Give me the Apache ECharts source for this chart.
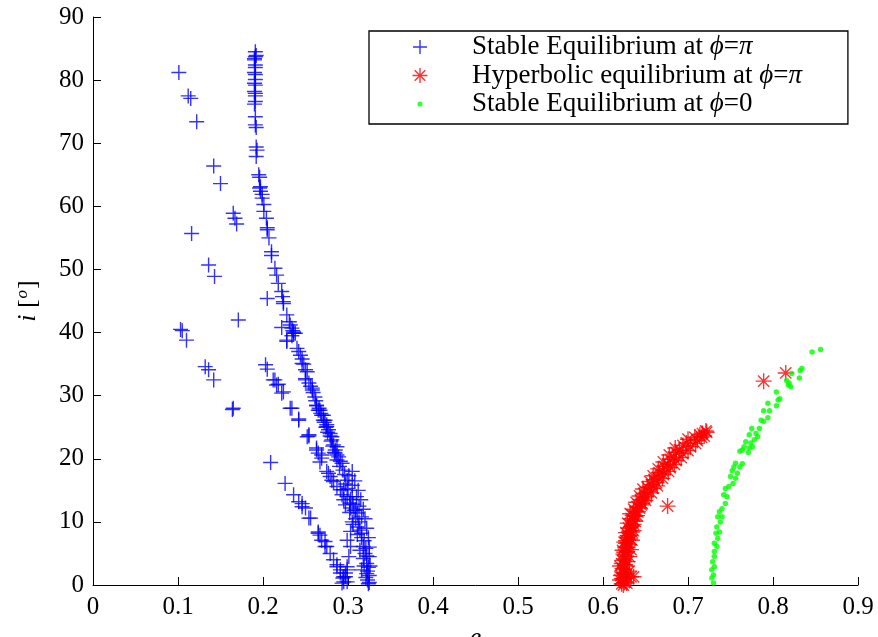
<!DOCTYPE html>
<html><head><meta charset="utf-8">
<script src="https://cdn.jsdelivr.net/npm/echarts@6/dist/echarts.min.js"></script>
<style>html,body{margin:0;padding:0;background:#fff}#c{width:878px;height:637px}</style>
</head><body><div id="c"></div>
<script>
// ---- tick labels ----
const xTickLabels = ['0','0.1','0.2','0.3','0.4','0.5','0.6','0.7','0.8','0.9'];
const yTickLabels = ['0','10','20','30','40','50','60','70','80','90'];

// ---- series names ----
const seriesNames = ['Stable Equilibrium at \u03D5=\u03C0', 'Hyperbolic equilibrium at \u03D5=\u03C0', 'Stable Equilibrium at \u03D5=0'];

// ---- Stable Equilibrium at phi=pi  [e, i] ----
const stablePiColumn = [
  [0.191,84.5],[0.192,83.9],[0.191,83.7],[0.190,83.4],[0.190,83.2],[0.191,82.4],[0.191,82.0],[0.190,81.2],[0.191,80.9],
  [0.191,80.1],[0.190,79.5],[0.191,79.2],[0.190,78.2],[0.191,77.9],[0.191,77.5],[0.191,76.6],[0.190,76.2],[0.191,74.2],
  [0.191,72.9],[0.192,72.5],[0.192,69.4],[0.193,68.9],[0.192,67.9],[0.195,65.0],[0.196,64.6],[0.197,63.1],[0.196,62.9]
];
const stablePiMain = [
  [0.197,62.4],[0.199,61.9],[0.199,61.3],[0.201,60.3],[0.201,59.2],[0.204,58.1],[0.205,56.6],[0.205,56.3],[0.207,55.0],
  [0.210,52.8],[0.210,52.2],[0.214,50.2],[0.216,49.1],[0.218,47.8],[0.222,46.5],[0.223,45.7],[0.224,44.9],[0.224,44.6],
  [0.228,42.8],[0.231,41.7],[0.232,41.2],[0.234,40.7],[0.236,39.9],[0.235,40.3],[0.236,40.1],[0.234,39.5],[0.228,38.8],
  [0.228,38.6],[0.222,40.8],[0.238,39.9],[0.244,36.4],[0.246,35.8],[0.246,35.1],[0.250,34.1],[0.250,32.7],[0.250,32.5],
  [0.258,31.2],[0.258,30.9],[0.259,30.5],[0.263,28.5],[0.263,28.4],[0.265,27.7],[0.267,27.7],[0.269,26.9],[0.271,26.9],
  [0.271,26.1],[0.273,26.1],[0.275,25.4],[0.275,25.1],[0.277,24.6],[0.279,24.0],[0.279,23.6],[0.281,23.5],[0.281,23.0],
  [0.283,22.2],[0.285,21.4],[0.287,21.9],[0.285,20.9],[0.287,20.6],[0.287,19.8],[0.293,19.3],[0.290,18.8],[0.277,17.7],
  [0.279,17.2],[0.275,18.0],[0.281,16.6],[0.283,16.4],[0.287,15.6],[0.291,15.1],[0.295,15.1],[0.299,16.6],[0.296,17.5],
  [0.293,14.3],[0.295,13.5],[0.299,14.0],[0.297,12.7],[0.302,13.0],[0.305,14.0],[0.303,12.2],[0.307,11.8],[0.311,11.4],
  [0.309,10.5],[0.313,10.0],[0.306,9.6],[0.314,8.7],[0.311,8.0],[0.316,7.5],[0.318,6.1],[0.314,5.5],[0.320,5.0],
  [0.322,3.4],[0.319,3.0],[0.323,2.2],[0.323,0.8],[0.321,1.2],[0.325,0.4],[0.325,1.5],[0.326,3.0],[0.325,4.5],
  [0.325,6.0],[0.324,7.5],[0.322,9.0],[0.320,10.5],[0.318,12.0],[0.315,13.5],[0.312,15.0],[0.308,16.5],[0.305,18.0],
  [0.299,7.1],[0.303,6.1],[0.301,4.5],[0.299,2.9],[0.297,1.3],[0.293,0.3],[0.295,0.5],[0.299,0.5],[0.297,1.9],
  [0.299,2.4],[0.303,8.5],[0.305,10.0],[0.302,11.5],
  [0.240,37.5],[0.242,37.0],[0.248,35.0],[0.252,33.8],[0.254,32.0],[0.256,31.5],[0.261,29.8],[0.262,29.2],[0.266,28.0],
  [0.268,27.2],[0.272,25.8],[0.274,25.0],[0.276,24.2],[0.280,22.8],[0.282,22.0],[0.284,21.0],[0.289,20.3],[0.291,19.6],
  [0.294,18.2],[0.297,16.0],[0.300,15.3],[0.303,13.6],[0.306,12.8],[0.309,11.9],[0.312,9.2],[0.316,8.2],[0.319,7.0],
  [0.321,5.8],[0.322,4.6],[0.324,2.8],[0.322,1.8],[0.324,0.2],[0.318,4.2],[0.316,2.4],[0.316,10.8],[0.313,12.5],
  [0.310,14.0],[0.305,15.8],[0.301,17.3]
];
const stablePiBranch = [
  [0.205,45.4],[0.203,34.9],[0.205,34.2],[0.212,32.5],[0.214,32.5],[0.216,31.7],[0.218,31.8],[0.222,30.4],[0.224,30.6],
  [0.232,28.0],[0.234,28.0],[0.242,26.3],[0.242,26.1],[0.254,23.8],[0.254,23.6],[0.252,23.5],[0.263,21.7],[0.263,21.4],
  [0.269,20.6],[0.269,20.1],[0.265,20.9],[0.267,19.5],[0.209,19.4],[0.226,16.1],[0.236,14.3],[0.242,13.2],[0.246,12.4],
  [0.246,12.9],[0.250,12.2],[0.254,10.6],[0.256,10.6],[0.265,8.4],[0.267,7.9],[0.265,8.2],[0.269,7.1],[0.273,6.9],
  [0.273,6.1],[0.275,6.1],[0.279,5.0],[0.283,4.0],[0.287,3.2],[0.287,2.9],[0.291,2.4],[0.291,1.9],[0.294,1.1],[0.295,1.3]
];
const stablePiScatter = [
  [0.101,81.2],[0.112,77.5],[0.115,77.1],[0.122,73.4],[0.142,66.4],[0.150,63.6],[0.165,58.9],[0.167,58.1],[0.169,57.2],
  [0.116,55.7],[0.136,50.7],[0.143,48.9],[0.171,42.0],[0.103,40.5],[0.105,40.3],[0.110,38.8],[0.132,34.6],[0.136,34.1],
  [0.142,32.5],[0.165,28.0],[0.164,27.8]
];

// ---- Hyperbolic equilibrium at phi=pi  [e, i] ----
const hyperbolicPi = [
  [0.622,0.2],[0.626,0.5],[0.624,0.9],[0.629,1.2],[0.621,1.5],[0.625,1.9],[0.631,2.2],[0.623,2.6],[0.627,3.0],[0.622,3.4],
  [0.629,3.7],[0.625,4.1],[0.631,4.5],[0.624,4.9],[0.628,5.3],[0.633,5.6],[0.626,6.0],[0.630,6.4],[0.625,6.8],[0.634,7.1],
  [0.628,7.5],[0.632,7.9],[0.627,8.3],[0.636,8.6],[0.630,9.0],[0.634,9.4],[0.629,9.8],[0.638,10.1],[0.633,10.5],[0.637,10.9],
  [0.632,11.3],[0.641,11.6],[0.636,12.0],[0.640,12.4],[0.645,12.7],[0.639,13.1],[0.644,13.5],[0.649,13.8],[0.643,14.1],
  [0.648,14.5],[0.653,14.8],[0.647,15.2],[0.652,15.5],[0.657,15.9],[0.655,16.4],[0.660,16.7],[0.664,17.1],[0.659,17.3],
  [0.666,17.8],[0.670,18.1],[0.665,18.4],[0.672,18.8],[0.676,19.2],[0.671,19.5],[0.679,19.9],[0.683,20.3],[0.678,20.6],
  [0.686,21.0],[0.690,21.4],[0.685,21.7],[0.694,22.1],[0.698,22.5],[0.700,23.1],[0.708,23.4],[0.714,23.8],[0.719,23.6],
  [0.722,24.2],[0.717,24.0],[0.620,0.8],[0.628,0.3],[0.633,1.3],[0.636,1.3],[0.623,2.0],[0.620,3.0],[0.623,5.5],
  [0.627,7.0],[0.631,8.5],[0.635,11.0],[0.676,12.5],[0.789,32.3],[0.815,33.6],[0.624,0.0],
  [0.625,0.4],[0.622,1.0],[0.627,1.7],[0.624,2.4],[0.626,3.2],[0.623,3.9],[0.627,4.6],[0.625,5.2],[0.629,5.9],[0.627,6.6],
  [0.632,7.3],[0.629,7.8],[0.634,8.4],[0.633,9.2],[0.636,9.6],[0.635,10.3],[0.640,11.0],[0.639,11.7],[0.643,12.2],[0.646,12.9],
  [0.650,13.4],[0.651,14.0],[0.657,14.6],[0.659,15.3],[0.664,15.7],[0.663,16.2],[0.670,16.9],[0.671,17.5],[0.677,18.0],[0.679,18.6],
  [0.684,19.1],[0.686,19.7],[0.692,20.2],[0.694,20.8],[0.700,21.3],[0.703,21.9],[0.709,22.4],[0.711,22.9],[0.716,23.4],[0.721,24.4]
];

// ---- Stable Equilibrium at phi=0  [e, i] ----
const stableZero = [
  [0.856,37.3],[0.846,36.9],[0.834,34.3],[0.832,34.0],[0.831,32.8],[0.822,33.5],[0.816,32.4],[0.819,32.0],[0.821,31.4],
  [0.818,31.7],[0.804,30.6],[0.808,29.5],[0.806,29.3],[0.804,28.4],[0.794,28.8],[0.796,27.6],[0.789,27.6],[0.794,26.5],
  [0.789,25.9],[0.786,26.1],[0.784,24.8],[0.775,24.8],[0.772,23.8],[0.780,24.0],[0.782,23.5],[0.778,23.0],[0.774,22.5],
  [0.768,22.7],[0.766,21.9],[0.764,21.4],[0.761,21.2],[0.772,21.7],[0.776,21.9],[0.771,21.0],[0.764,19.2],[0.761,18.7],
  [0.756,19.3],[0.754,18.7],[0.752,18.1],[0.758,17.7],[0.756,16.9],[0.750,17.2],[0.753,16.1],[0.748,15.6],[0.744,15.3],
  [0.742,14.3],[0.746,14.0],[0.744,12.9],[0.740,12.1],[0.737,11.6],[0.740,10.8],[0.735,10.8],[0.738,10.0],[0.734,9.2],
  [0.737,8.4],[0.733,8.2],[0.735,7.4],[0.731,6.6],[0.734,6.1],[0.731,5.3],[0.731,4.5],[0.729,3.7],[0.731,2.9],
  [0.728,2.4],[0.730,1.6],[0.728,1.1],[0.730,0.3]
];

const stablePi = stablePiColumn.concat(stablePiMain, stablePiBranch, stablePiScatter);

// ---- marker shapes ----
const crossPath = 'path://M-0.75,-8L0.75,-8L0.75,8L-0.75,8ZM-8,-0.75L8,-0.75L8,0.75L-8,0.75Z';
const starPath = 'path://M-0.7,-8L0.7,-8L0.7,8L-0.7,8ZM-8,-0.7L8,-0.7L8,0.7L-8,0.7Z' +
  'M-5.16,-6.15L6.15,5.16L5.16,6.15L-6.15,-5.16Z' +
  'M5.16,-6.15L6.15,-5.16L-5.16,6.15L-6.15,5.16Z';
const legendCross = 'path://M-13,-13L-13,-13ZM13,13L13,13ZM-0.7,-7L0.7,-7L0.7,7L-0.7,7ZM-7,-0.7L7,-0.7L7,0.7L-7,0.7Z';
const legendStar = 'path://M-13,-13L-13,-13ZM13,13L13,13ZM-0.7,-7.5L0.7,-7.5L0.7,7.5L-0.7,7.5ZM-7.5,-0.7L7.5,-0.7L7.5,0.7L-7.5,0.7Z' +
  'M-4.8,-5.8L5.8,4.8L4.8,5.8L-5.8,-4.8Z' +
  'M4.8,-5.8L5.8,-4.8L-4.8,5.8L-5.8,4.8Z';
const legendDot = 'path://M-13,-13L-13,-13ZM13,13L13,13ZM0,-2.6A2.6,2.6,0,1,1,0,2.6A2.6,2.6,0,1,1,0,-2.6Z';

const FONT = '"Liberation Serif","DejaVu Serif",serif';

const chart = echarts.init(document.getElementById('c'), null, {renderer: 'canvas'});
chart.setOption({
  backgroundColor: '#fff',
  animation: false,
  grid: {left: 93, right: 20, top: 17, bottom: 52, containLabel: false, outerBoundsMode: 'none'},
  xAxis: {
    type: 'value', min: 0, max: 0.9, interval: 0.1,
    name: 'e', nameLocation: 'middle', nameGap: 30,
    nameTextStyle: {fontFamily: FONT, fontSize: 26, fontStyle: 'italic', color: '#000'},
    axisLine: {show: true, lineStyle: {color: '#000', width: 1}},
    axisTick: {show: true, inside: true, length: 8, lineStyle: {color: '#000'}},
    axisLabel: {fontFamily: FONT, fontSize: 25, color: '#000', margin: 10,
      formatter: v => xTickLabels[Math.round(v * 10)]},
    splitLine: {show: false}
  },
  yAxis: {
    type: 'value', min: 0, max: 90, interval: 10,
    name: '{it|i} [{sup|o}]', nameLocation: 'middle', nameGap: 50, nameRotate: 90,
    nameTextStyle: {fontFamily: FONT, fontSize: 26, color: '#000',
      rich: {it: {fontFamily: FONT, fontSize: 26, fontStyle: 'italic', color: '#000'},
             sup: {fontFamily: FONT, fontSize: 17, fontStyle: 'italic', color: '#000', verticalAlign: 'top', padding: [0, 1, 12, 1]}}},
    axisLine: {show: true, lineStyle: {color: '#000', width: 1}},
    axisTick: {show: true, inside: true, length: 8, lineStyle: {color: '#000'}},
    axisLabel: {fontFamily: FONT, fontSize: 25, color: '#000', margin: 9,
      formatter: v => yTickLabels[Math.round(v / 10)]},
    splitLine: {show: false}
  },
  legend: {
    orient: 'vertical', left: 369, top: 31,
    itemWidth: 94, itemHeight: 26, itemGap: 1.5,
    padding: [2.5, 46, 6.5, 38],
    borderColor: '#000', borderWidth: 1.3, backgroundColor: '#fff',
    selectedMode: false,
    data: [
      {name: seriesNames[0], icon: legendCross},
      {name: seriesNames[1], icon: legendStar},
      {name: seriesNames[2], icon: legendDot}
    ],
    formatter: n => n.replace('\u03D5', '{m|\u03D5}').replace('\u03C0', '{m|\u03C0}'),
    textStyle: {fontFamily: FONT, fontSize: 27, color: '#000',
      rich: {m: {fontFamily: FONT, fontSize: 27, fontStyle: 'italic', color: '#000'}}}
  },
  series: [
    {name: seriesNames[0], type: 'scatter', data: stablePi, symbol: crossPath, symbolSize: 15,
      itemStyle: {color: '#0000ff'}, z: 2},
    {name: seriesNames[1], type: 'scatter', data: hyperbolicPi, symbol: starPath, symbolSize: 16,
      itemStyle: {color: '#ff0000'}, z: 3},
    {name: seriesNames[2], type: 'scatter', data: stableZero, symbol: 'circle', symbolSize: 5.5,
      itemStyle: {color: '#00ff00'}, z: 4}
  ]
});
</script></body></html>
